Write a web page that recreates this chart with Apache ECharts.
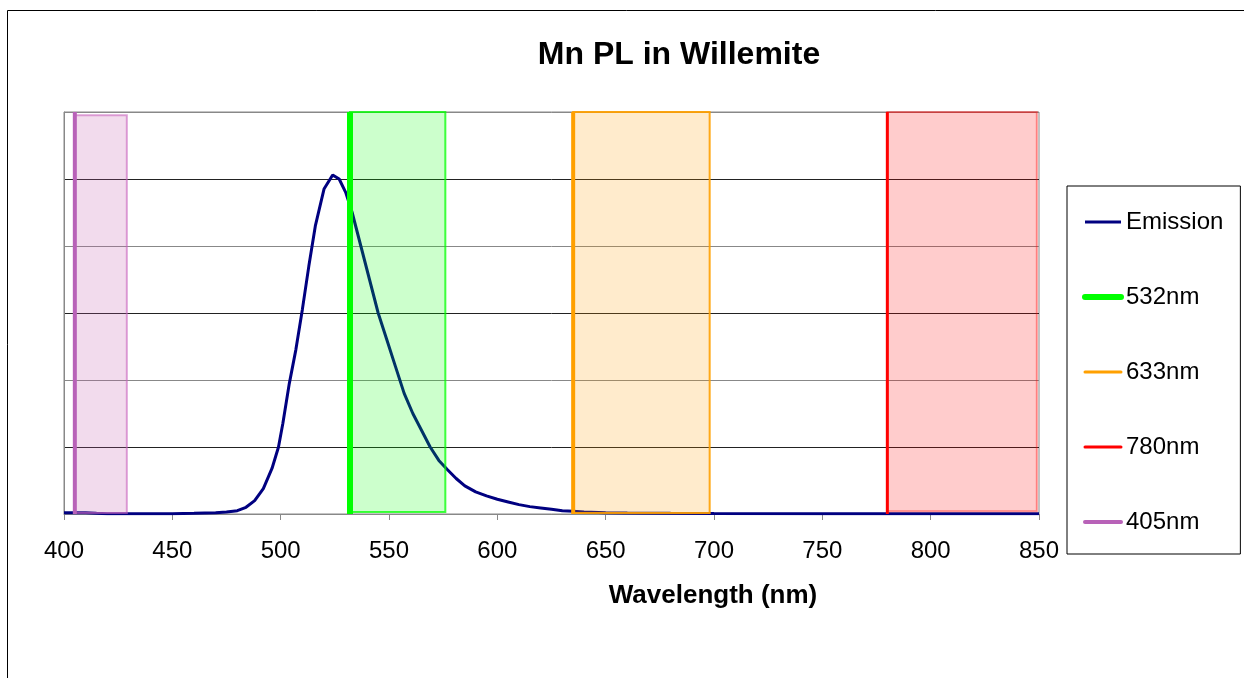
<!DOCTYPE html>
<html>
<head>
<meta charset="utf-8">
<script src="https://cdn.jsdelivr.net/npm/echarts@6/dist/echarts.min.js"></script>
<style>
html,body{margin:0;padding:0;background:#fff;}
#chart{width:1244px;height:678px;}
</style>
</head>
<body>
<div id="chart"></div>
<script>
// Emission spectrum (wavelength nm, relative intensity in gridline units)
const emissionWavelength = [400,405,410,415,420,430,440,450,460,465,470,475,480,484,488,492,496,499,501,504,507,510,513,516,520,524,527,530,533,537,541,545,549,553,557,561,565,569,573,577,581,585,590,595,600,605,610,615,620,625,630,635,640,650,660,680,700,750,800,850];
const emissionValue = [0.02,0.02,0.02,0.01,0.005,0.005,0.005,0.005,0.01,0.015,0.02,0.03,0.05,0.1,0.2,0.38,0.68,1.0,1.35,1.95,2.45,3.05,3.7,4.3,4.85,5.06,5.0,4.8,4.5,4.0,3.5,3.0,2.6,2.2,1.8,1.5,1.25,1.0,0.8,0.66,0.53,0.42,0.33,0.27,0.22,0.18,0.14,0.11,0.09,0.07,0.05,0.04,0.03,0.02,0.015,0.01,0.008,0.005,0.003,0.002];

// Laser lines and their filter bands
const laserNames = ['532nm','633nm','780nm','405nm'];
const laserPosition = [532,635,780,405];
const bandStart = [532,635,780,405];
const bandEnd = [576,698,849,429];
const bandTop = [6,6,6,5.95];
const bandBottom = [0.03,0.015,0.04,0.015];
const xTicks = [400,450,500,550,600,650,700,750,800,850];

const laserColor = ['#00ff00','#ffa000','#ff0000','#b862b8'];
const laserWidth = [6,4,3,4];
const bandFill = ['rgba(0,255,0,0.2)','rgba(255,155,0,0.2)','rgba(255,0,0,0.2)','rgba(195,90,175,0.22)'];
const bandBorder = ['rgba(0,255,0,0.75)','rgba(255,160,0,0.9)','rgba(255,0,0,0.4)','rgba(200,100,190,0.6)'];
const legendLineWidth = [6,3,3,4];

const FONT = 'Liberation Sans, Arial, sans-serif';

const series = [{
  name: 'Emission',
  type: 'line',
  data: emissionWavelength.map((w,i)=>[w, emissionValue[i]]),
  symbol: 'none',
  showSymbol: false,
  z: 2,
  lineStyle: {color:'#000080', width:3},
  itemStyle: {color:'#000080'}
}];
laserNames.forEach((n,i)=>{
  series.push({
    name: n,
    type: 'line',
    data: [[laserPosition[i],0],[laserPosition[i],6]],
    symbol: 'none',
    showSymbol: false,
    z: 4,
    lineStyle: {color: laserColor[i], width: laserWidth[i]},
    itemStyle: {color: laserColor[i]},
    markArea: {
      silent: true,
      z: 3,
      itemStyle: {color: bandFill[i], borderColor: bandBorder[i], borderWidth: 2},
      data: [[{coord:[bandStart[i], bandBottom[i]]},{coord:[bandEnd[i], bandTop[i]]}]]
    }
  });
});

const chart = echarts.init(document.getElementById('chart'));
chart.setOption({
  animation: false,
  backgroundColor: '#fff',
  title: [{
    text: 'Mn PL in Willemite',
    left: 674, top: 34, textAlign: 'center',
    textStyle: {fontFamily: FONT, fontSize: 32, fontWeight: 'bold', color:'#000'}
  },{
    text: 'Wavelength (nm)',
    left: 708, top: 578, textAlign: 'center',
    textStyle: {fontFamily: FONT, fontSize: 26, fontWeight: 'bold', color:'#000'}
  }],
  graphic: [{
    type: 'rect',
    shape: {x: 7.5, y: 10.5, width: 1260, height: 700},
    style: {fill: 'none', stroke: '#000', lineWidth: 1},
    silent: true
  }],
  grid: {left: 64, top: 112, right: 205, bottom: 164, show: true, borderColor: '#888', borderWidth: 1},
  xAxis: {
    type: 'value', min: 400, max: 850, interval: 50,
    axisLine: {show: true, lineStyle: {color:'#888', width: 1}},
    axisTick: {show: true, length: 6, lineStyle: {color:'#888'}},
    axisLabel: {fontFamily: FONT, fontSize: 24, color:'#000', margin: 25,
      formatter: v => xTicks.includes(v) ? String(v) : ''},
    splitLine: {show: false}
  },
  yAxis: {
    type: 'value', min: 0, max: 6, interval: 1,
    axisLine: {show: true, lineStyle: {color:'#888'}},
    axisTick: {show: false},
    axisLabel: {show: false},
    splitLine: {show: true, lineStyle: {color: ['#888','#222'], width: 1}}
  },
  legend: {
    orient: 'vertical',
    left: 1067, top: 186,
    itemWidth: 36, itemHeight: 14, itemGap: 51,
    padding: [24, 17, 20, 15],
    borderColor: '#000', borderWidth: 1,
    itemStyle: {opacity: 0},
    textStyle: {fontFamily: FONT, fontSize: 24, color: '#000'},
    data: [{name:'Emission', lineStyle:{width:3}}]
      .concat(laserNames.map((n,i)=>({name: n, lineStyle: {width: legendLineWidth[i], cap: 'round'}})))
  },
  series: series
});
</script>
</body>
</html>
